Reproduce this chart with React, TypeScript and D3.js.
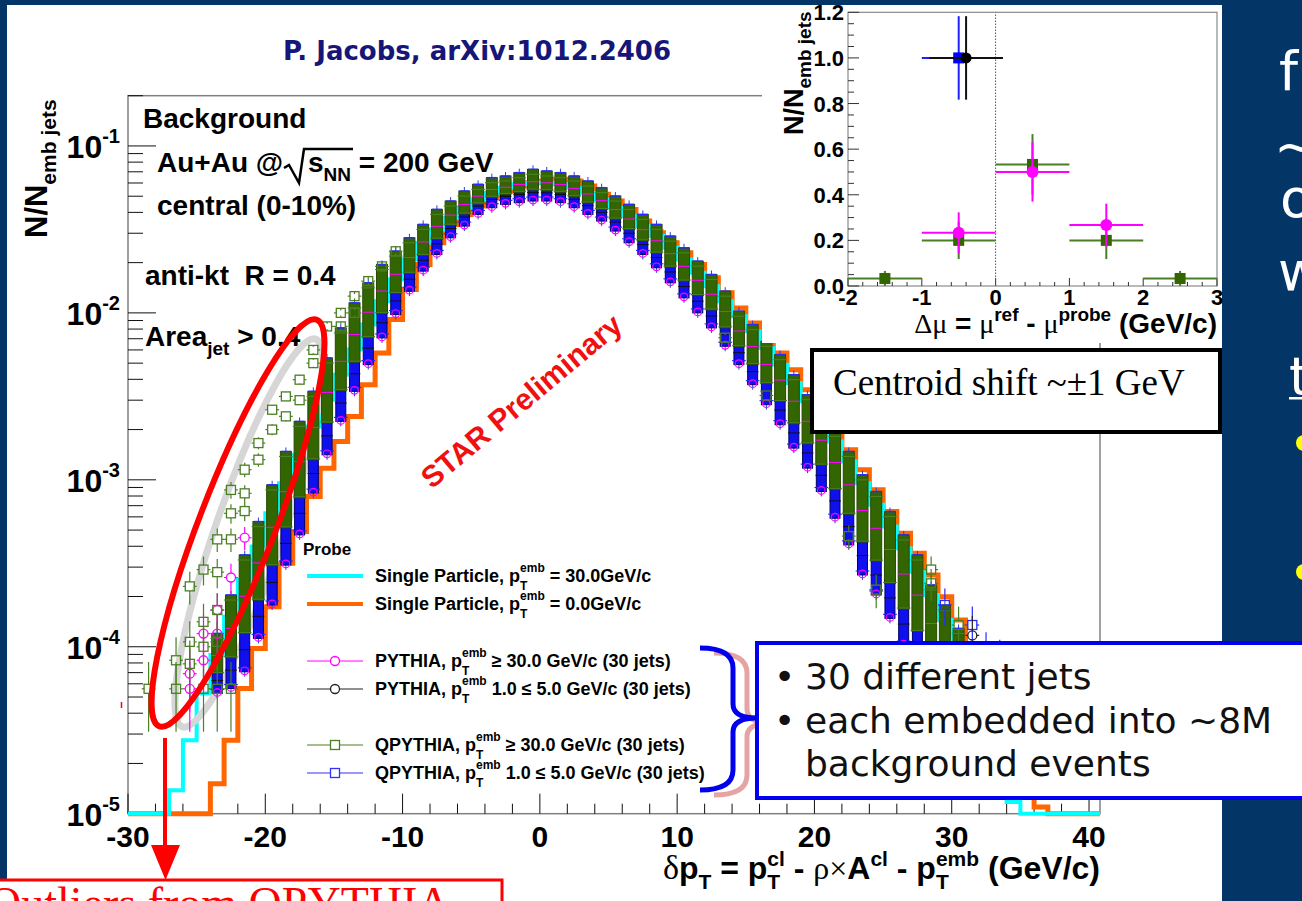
import React from 'react'
import * as d3 from 'd3'

// delta pT histograms, 1 GeV/c bins starting at -30; values are log10(N/N_emb jets), null = empty bin
const BIN_START = -30
const SINGLE_0_LOG10 = [
  null, null, null, null, null, null, -4.82, -4.56, -4.25, -4.01,
  -3.76, -3.5, -3.31, -3.1, -2.93, -2.77, -2.62, -2.43, -2.24, -2.04,
  -1.86, -1.71, -1.58, -1.47, -1.41, -1.36, -1.31, -1.27, -1.24, -1.22,
  -1.21, -1.2, -1.21, -1.24, -1.29, -1.33, -1.38, -1.45, -1.52, -1.58,
  -1.64, -1.71, -1.79, -1.88, -1.97, -2.06, -2.15, -2.24, -2.34, -2.46,
  -2.57, -2.7, -2.82, -2.94, -3.06, -3.19, -3.32, -3.44, -3.57, -3.7,
  -3.84, -3.98, -4.14, -4.32, -4.5, -4.72, -4.96, null, null, null,
]
const SINGLE_30_LOG10 = [
  null, null, null, -4.86, -4.56, -4.28, -4.05, -3.82, -3.6, -3.4,
  -3.2, -3.02, -2.85, -2.68, -2.52, -2.37, -2.22, -2.07, -1.93, -1.8,
  -1.68, -1.58, -1.5, -1.43, -1.37, -1.32, -1.28, -1.25, -1.23, -1.22,
  -1.22, -1.23, -1.25, -1.28, -1.32, -1.37, -1.42, -1.48, -1.54, -1.61,
  -1.68, -1.76, -1.84, -1.93, -2.02, -2.11, -2.21, -2.31, -2.42, -2.53,
  -2.65, -2.77, -2.89, -3.02, -3.15, -3.28, -3.41, -3.55, -3.69, -3.84,
  -4.0, -4.18, -4.38, -4.62, -4.93, null, null, null, null, null,
]

// envelope of the overlaid embedded-jet points (PYTHIA / QPYTHIA, 30 jets each), bins from -24
const JET_BIN_START = -24
const JET_HI_LOG10 = [
  -3.95, -3.72, -3.48, -3.28, -3.06, -2.86, -2.68, -2.5, -2.3, -2.12,
  -1.97, -1.85, -1.74, -1.66, -1.58, -1.5, -1.41, -1.36, -1.3, -1.26,
  -1.22, -1.21, -1.19, -1.17, -1.18, -1.19, -1.21, -1.24, -1.28, -1.33,
  -1.38, -1.44, -1.5, -1.57, -1.64, -1.72, -1.8, -1.9, -2.02, -2.1,
  -2.2, -2.28, -2.4, -2.52, -2.62, -2.74, -2.86, -3.0, -3.1, -3.22,
  -3.36, -3.48, -3.66, -3.78, -3.92, -4.05,
]
const JET_LO_LOG10 = [
  -4.25, -4.22, -4.12, -3.92, -3.72, -3.48, -3.3, -3.05, -2.82, -2.62,
  -2.44, -2.28, -2.12, -1.98, -1.84, -1.72, -1.62, -1.52, -1.45, -1.38,
  -1.34, -1.32, -1.31, -1.3, -1.3, -1.31, -1.34, -1.38, -1.42, -1.48,
  -1.55, -1.62, -1.7, -1.79, -1.88, -1.97, -2.06, -2.17, -2.28, -2.4,
  -2.52, -2.64, -2.78, -2.9, -3.04, -3.2, -3.36, -3.54, -3.66, -3.8,
  -3.96, -4.1, -4.25, -4.35, -4.45, -4.55,
]

// isolated points: [bin centre, N/N_emb, error]
const QPYTHIA_HI_POINTS: [number, number, number][] = [
  [-28.5, 5.6e-5, 2.5e-5], [-26.5, 8.3e-5, 3.1e-5], [-26.5, 5.6e-5, 2.5e-5],
  [-25.5, 2.3e-4, 5.1e-5], [-25.5, 1.07e-4, 3.5e-5], [-25.5, 7.9e-5, 3.0e-5],
  [-24.5, 2.9e-4, 5.7e-5], [-24.5, 1.41e-4, 4.0e-5], [-24.5, 1.0e-4, 3.4e-5], [-24.5, 5.6e-5, 2.5e-5],
  [-23.5, 4.4e-4, 7.1e-5], [-23.5, 2.8e-4, 5.6e-5], [-23.5, 1.66e-4, 4.3e-5], [-23.5, 1.07e-4, 3.5e-5], [-23.5, 5.6e-5, 2.5e-5],
  [-22.5, 8.7e-4, 9.9e-5], [-22.5, 6.3e-4, 8.5e-5], [-22.5, 4.4e-4, 7.1e-5], [-22.5, 5.6e-5, 2.5e-5],
  [-21.5, 1.15e-3, 1.14e-4], [-21.5, 8.3e-4, 9.7e-5], [-21.5, 6.5e-4, 8.6e-5],
  [-20.5, 1.66e-3, 1.37e-4], [-20.5, 1.32e-3, 1.22e-4],
  [-19.5, 2.63e-3, 1.73e-4], [-19.5, 2.0e-3, 1.5e-4],
  [-18.5, 3.16e-3, 1.9e-4], [-18.5, 2.4e-3, 1.65e-4],
  [-17.5, 3.98e-3, 2.1e-4], [-17.5, 3.0e-3, 1.84e-4],
  [-16.5, 6.0e-3, 2.6e-4], [-16.5, 5.0e-3, 2.4e-4],
  [-15.5, 8.3e-3, 3.1e-4], [-14.5, 1.0e-2, 3.4e-4], [-14.5, 8.3e-3, 3.1e-4],
  [-13.5, 1.26e-2, 3.8e-4], [-13.5, 1.0e-2, 3.4e-4], [-12.5, 1.55e-2, 4.2e-4],
  [-11.5, 1.9e-2, 4.6e-4], [-10.5, 2.34e-2, 5.2e-4],
  [13.5, 7.1e-3, 2.8e-4], [16.5, 3.2e-3, 1.9e-4], [22.5, 4.6e-4, 7.2e-5],
  [24.5, 2.2e-4, 5.0e-5], [28.5, 2.9e-4, 5.7e-5], [28.5, 2.4e-4, 5.2e-5], [30.5, 1.35e-4, 3.9e-5],
]
const PYTHIA_HI_POINTS: [number, number, number][] = [
  [-21.5, 4.5e-4, 7.1e-5], [-22.5, 2.6e-4, 5.4e-5], [-23.5, 1.66e-4, 4.3e-5], [-23.5, 1.2e-4, 3.7e-5],
  [-24.5, 1.2e-4, 3.7e-5], [-24.5, 8.3e-5, 3.1e-5], [-25.5, 6.9e-5, 2.8e-5], [-25.5, 5.6e-5, 2.5e-5],
]
const QPYTHIA_LO_POINTS: [number, number, number][] = [
  [29.5, 1.78e-4, 4.5e-5], [31.5, 1.35e-4, 3.9e-5], [32.5, 9e-5, 3.2e-5], [33.5, 8e-5, 3e-5],
]
const PYTHIA_LO_POINTS: [number, number, number][] = [[31.5, 1.17e-4, 3.6e-5]]

const X_TICKS = [-30, -20, -10, 0, 10, 20, 30, 40]
const Y_DECADES = [-5, -4, -3, -2, -1]

// inset: centroid shift distribution
const INSET_X_TICKS = [-2, -1, 0, 1, 2, 3]
const INSET_Y_TICKS = [0, 0.2, 0.4, 0.6, 0.8, 1.0, 1.2]
const INSET_QPYTHIA_HI = [
  { x: -1.5, y: 0.033, e: 0.033 }, { x: -0.5, y: 0.2, e: 0.082 }, { x: 0.5, y: 0.533, e: 0.133 },
  { x: 1.5, y: 0.2, e: 0.082 }, { x: 2.5, y: 0.033, e: 0.033 },
]
const INSET_PYTHIA_HI = [
  { x: -0.5, y: 0.233, e: 0.09 }, { x: 0.5, y: 0.5, e: 0.13 }, { x: 1.5, y: 0.267, e: 0.094 },
]
const INSET_QPYTHIA_LO = [{ x: -0.5, y: 1.0, e: 0.183 }]
const INSET_PYTHIA_LO = [{ x: -0.4, y: 1.0, e: 0.183 }]

const W = 1302
const H = 901
const SLIDE_BG = '#033667'
const C_ORANGE = '#ff6600'
const C_CYAN = '#00ffff'
const C_GREEN = '#336600'
const C_GREEN_LINE = '#4a7f24'
const C_BLUE = '#1010ee'
const C_MAGENTA = '#ff00ff'

const x = d3.scaleLinear().domain([-30, 40.8]).range([128, 1100])
const y = d3.scaleLog().domain([1e-5, 0.2]).range([813.7, 95.7])
const ix = d3.scaleLinear().domain([-2, 3]).range([848, 1217])
const iy = d3.scaleLinear().domain([0, 1.2]).range([286, 12.3])

const yLog = (lg: number | null) => (lg == null ? y.range()[0] : Math.min(y.range()[0], y(Math.pow(10, lg))))

type Run = { t: string; s: number; dy?: number; w?: string; f?: string; stack?: boolean }
let ctx: CanvasRenderingContext2D | null = null
function measure(r: Run) {
  if (!ctx) ctx = document.createElement('canvas').getContext('2d')
  ctx!.font = `${r.w ?? 'bold'} ${r.s}px "${r.f ?? 'Liberation Sans'}"`
  return ctx!.measureText(r.t).width
}
function runs(list: Run[], x0: number, y0: number, anchor: 'start' | 'end' = 'start', fill = '#000') {
  const pos: number[] = []
  let cx = 0
  let stackAt: number | null = null
  let stackW = 0
  list.forEach((r) => {
    const w = measure(r)
    if (r.stack) { stackAt = cx; stackW = w; pos.push(cx) }
    else if (stackAt !== null) { pos.push(stackAt); cx = stackAt + Math.max(stackW, w); stackAt = null }
    else { pos.push(cx); cx += w }
  })
  const off = anchor === 'end' ? x0 - cx : x0
  return list.map((r, i) => (
    <text key={i} x={off + pos[i]} y={y0 + (r.dy ?? 0)} fontSize={r.s} fontWeight={r.w ?? 'bold'}
      fontFamily={`'${r.f ?? 'Liberation Sans'}', Arial, sans-serif`} fill={fill} style={{ whiteSpace: 'pre' }}>
      {r.t}
    </text>
  ))
}

function stepPath(vals: (number | null)[]) {
  let d = ''
  vals.forEach((lg, i) => {
    const yy = yLog(lg)
    d += `${i === 0 ? 'M' : 'L'}${x(BIN_START + i)},${yy}L${x(BIN_START + i + 1)},${yy}`
  })
  d += `L${x(x.domain()[1])},${y.range()[0]}`
  return d
}

function ErrPoint({ px, v, e, color, shape }: { px: number; v: number; e: number; color: string; shape: 'sq' | 'ci' }) {
  const cx = x(px)
  const cy = y(v)
  const top = y(v + e)
  const bot = v - e > 1e-5 ? y(v - e) : y.range()[0]
  const hw = 4.5
  return (
    <g>
      <line x1={cx} x2={cx} y1={top} y2={cy - hw} stroke={color} strokeWidth={1.2} />
      <line x1={cx} x2={cx} y1={cy + hw} y2={bot} stroke={color} strokeWidth={1.2} />
      <line x1={x(px - 0.5)} x2={cx - hw} y1={cy} y2={cy} stroke={color} strokeWidth={1.2} />
      <line x1={cx + hw} x2={x(px + 0.5)} y1={cy} y2={cy} stroke={color} strokeWidth={1.2} />
      {shape === 'sq'
        ? <rect x={cx - hw} y={cy - hw} width={hw * 2} height={hw * 2} fill="none" stroke={color} strokeWidth={1.3} />
        : <circle cx={cx} cy={cy} r={hw} fill="none" stroke={color} strokeWidth={1.3} />}
    </g>
  )
}

function Brace({ dx, dy, color }: { dx: number; dy: number; color: string }) {
  const d = 'M700,648 Q733,648 733,668 L733,704 Q733,718 757,718 Q733,718 733,732 L733,770 Q733,790 700,790'
  return <path d={d} transform={`translate(${dx},${dy})`} fill="none" stroke={color} strokeWidth={5} />
}

export default function App() {
  const jets = JET_HI_LOG10.map((hi, i) => ({ b: JET_BIN_START + i, hi, lo: JET_LO_LOG10[i] }))
  const yTicks: { v: number; major: boolean }[] = []
  Y_DECADES.forEach((e) => {
    for (let k = 1; k <= 9; k++) {
      const v = k * Math.pow(10, e)
      if (v <= y.domain()[1] * 1.0001) yTicks.push({ v, major: k === 1 })
    }
  })
  const xMinor = d3.range(-30, 41, 2)
  const iyMinor = d3.range(0, 1.2001, 0.05)
  const ixMinor = d3.range(-2, 3.001, 0.2)
  const [ax0, ax1] = x.range()
  const [ay0, ay1] = y.range()
  const [ix0, ix1] = ix.range()
  const [iy0, iy1] = iy.range()

  const sup = (t: string): Run => ({ t, s: 12, dy: -10, stack: true })
  const sub = (t: string): Run => ({ t, s: 12, dy: 8 })
  const legend = [
    { y: 576, kind: 'line', color: C_CYAN, text: [{ t: 'Single Particle, p', s: 18 }, sup('emb'), sub('T'), { t: ' = 30.0GeV/c', s: 18 }] },
    { y: 604, kind: 'line', color: C_ORANGE, text: [{ t: 'Single Particle, p', s: 18 }, sup('emb'), sub('T'), { t: ' = 0.0GeV/c', s: 18 }] },
    { y: 661, kind: 'ci', color: C_MAGENTA, text: [{ t: 'PYTHIA, p', s: 18 }, sup('emb'), sub('T'), { t: ' \u2265 30.0 GeV/c (30 jets)', s: 18 }] },
    { y: 689, kind: 'ci', color: '#222', text: [{ t: 'PYTHIA, p', s: 18 }, sup('emb'), sub('T'), { t: ' 1.0 \u2264 5.0 GeV/c (30 jets)', s: 18 }] },
    { y: 745, kind: 'sq', color: C_GREEN_LINE, text: [{ t: 'QPYTHIA, p', s: 18 }, sup('emb'), sub('T'), { t: ' \u2265 30.0 GeV/c (30 jets)', s: 18 }] },
    { y: 773, kind: 'sq', color: '#3030ff', text: [{ t: 'QPYTHIA, p', s: 18 }, sup('emb'), sub('T'), { t: ' 1.0 \u2264 5.0 GeV/c (30 jets)', s: 18 }] },
  ] as { y: number; kind: string; color: string; text: Run[] }[]

  return (
    <svg width={W} height={H} style={{ position: 'absolute', left: 0, top: 0, display: 'block' }}
      fontFamily="'Liberation Sans', Arial, sans-serif">
      <rect width={W} height={H} fill={SLIDE_BG} />
      <rect x={7} y={5} width={1215} height={H} fill="#fff" />

      <text x={283} y={60} fontFamily="'DejaVu Sans', sans-serif" fontWeight="bold" fontSize={26} fill="#16167a">
        P. Jacobs, arXiv:1012.2406
      </text>

      {/* main frame */}
      <rect x={ax0} y={ay1} width={ax1 - ax0} height={ay0 - ay1} fill="none" stroke="#808080" strokeWidth={1.5} />
      {yTicks.map((t, i) => (
        <line key={i} x1={ax0} x2={ax0 + (t.major ? 28 : 15)} y1={y(t.v)} y2={y(t.v)} stroke="#111" strokeWidth={1} />
      ))}
      {xMinor.map((t) => (
        <line key={t} x1={x(t)} x2={x(t)} y1={ay0} y2={ay0 - (t % 10 === 0 ? 20 : 10)} stroke="#111" strokeWidth={1} />
      ))}
      {Y_DECADES.map((e) => (
        <g key={e}>{runs([{ t: '10', s: 32 }, { t: `${e}`, s: 20, dy: -15 }], 120, y(Math.pow(10, e)) + 12, 'end')}</g>
      ))}
      {X_TICKS.map((t) => (
        <text key={t} x={x(t)} y={847} textAnchor="middle" fontSize={30} fontWeight="bold">{t}</text>
      ))}
      <g>{runs([
        { t: '\u03b4', s: 34, w: 'normal', f: 'Liberation Serif' }, { t: 'p', s: 32 }, { t: 'T', s: 21, dy: 10 },
        { t: ' = p', s: 32 }, { t: 'cl', s: 21, dy: -13, stack: true }, { t: 'T', s: 21, dy: 10 },
        { t: ' - ', s: 32 }, { t: '\u03c1\u00d7', s: 32, w: 'normal', f: 'Liberation Serif' }, { t: 'A', s: 32 },
        { t: 'cl', s: 21, dy: -13 }, { t: ' - p', s: 32 }, { t: 'emb', s: 21, dy: -13, stack: true }, { t: 'T', s: 21, dy: 10 },
        { t: ' (GeV/c)', s: 32 },
      ], ax1, 879, 'end')}</g>
      <g transform="translate(47,238) rotate(-90)">
        {runs([{ t: 'N/N', s: 31 }, { t: 'emb jets', s: 21, dy: 9 }], 0, 0)}
      </g>

      {/* plot labels */}
      <text x={143} y={128} fontSize={28} fontWeight="bold">Background</text>
      <text x={157} y={172} fontSize={28} fontWeight="bold">Au+Au @</text>
      <path d="M284,168 L289,165 L299,183 L304,149 L353,149" fill="none" stroke="#000" strokeWidth={2.5} />
      <g>{runs([{ t: 's', s: 28 }, { t: 'NN', s: 19, dy: 9 }, { t: ' = 200 GeV', s: 28 }], 308, 172)}</g>
      <text x={157} y={215} fontSize={28} fontWeight="bold">central (0-10%)</text>
      <text x={145} y={285} fontSize={28} fontWeight="bold" style={{ whiteSpace: 'pre' }}>anti-kt  R = 0.4</text>
      <g>{runs([{ t: 'Area', s: 28 }, { t: 'jet', s: 19, dy: 9 }, { t: ' > 0.4', s: 28 }], 145, 346)}</g>

      {/* single-particle histograms */}
      <path d={stepPath(SINGLE_0_LOG10)} fill="none" stroke={C_ORANGE} strokeWidth={5} />
      <path d={stepPath(SINGLE_30_LOG10)} fill="none" stroke={C_CYAN} strokeWidth={4} />

      {/* shadow of the outline ellipse */}
      <ellipse cx={0} cy={0} rx={205} ry={34} transform="translate(249,533) rotate(-71)" fill="none" stroke="#d6d6d6" strokeWidth={7} />

      {/* embedded jets: overlapping markers of the 30-jet sets, per bin */}
      {jets.map(({ b, hi, lo }) => {
        const xc = x(b + 0.5)
        const x0 = x(b)
        const x1 = x(b + 1)
        const yH = y(Math.pow(10, hi))
        const yL = y(Math.pow(10, lo))
        const ySplit = yH + (yL - yH) * 0.68
        return (
          <g key={b}>
            <line x1={xc} x2={xc} y1={yH - 9} y2={yL + 10} stroke="#2f3fd0" strokeWidth={1} />
            <rect x={xc - 5} y={ySplit - 3} width={10} height={yL - ySplit + 8} fill={C_BLUE} stroke="#00006a" strokeWidth={1} />
            <line x1={x0} x2={x1} y1={yL + 1} y2={yL + 1} stroke="#2222ff" strokeWidth={1.1} />
            <line x1={x0 + 1} x2={x1 - 1} y1={(ySplit + yL) / 2} y2={(ySplit + yL) / 2} stroke="#111" strokeWidth={1} />
            <circle cx={xc} cy={yL + 4} r={3.8} fill="none" stroke={C_MAGENTA} strokeWidth={1.2} />
            <rect x={xc - 5.5} y={yH - 5} width={11} height={ySplit - yH + 6} fill={C_GREEN} stroke="#264a04" strokeWidth={1} />
            <line x1={xc - 5} x2={xc + 5} y1={yH - 5} y2={yH - 5} stroke="#2a2aff" strokeWidth={1.5} />
            <line x1={x0} x2={x1} y1={yH} y2={yH} stroke={C_GREEN_LINE} strokeWidth={1.1} />
            <line x1={x0 + 1} x2={x1 - 1} y1={(yH + ySplit) / 2} y2={(yH + ySplit) / 2} stroke={C_MAGENTA} strokeWidth={1} />
            <line x1={x0} x2={x1} y1={ySplit} y2={ySplit} stroke={C_GREEN_LINE} strokeWidth={1} />
          </g>
        )
      })}
      {PYTHIA_HI_POINTS.map((p, i) => <ErrPoint key={'m' + i} px={p[0]} v={p[1]} e={p[2]} color={C_MAGENTA} shape="ci" />)}
      {QPYTHIA_HI_POINTS.map((p, i) => <ErrPoint key={'g' + i} px={p[0]} v={p[1]} e={p[2]} color={C_GREEN_LINE} shape="sq" />)}
      {QPYTHIA_LO_POINTS.map((p, i) => <ErrPoint key={'b' + i} px={p[0]} v={p[1]} e={p[2]} color="#2a2aff" shape="sq" />)}
      {PYTHIA_LO_POINTS.map((p, i) => <ErrPoint key={'k' + i} px={p[0]} v={p[1]} e={p[2]} color="#222" shape="ci" />)}

      {/* outline ellipse */}
      <ellipse cx={0} cy={0} rx={218} ry={38} transform="translate(238,523) rotate(-68.8)" fill="none" stroke="#ff0000" strokeWidth={6} />
      <line x1={121.5} x2={121.5} y1={702} y2={708} stroke="#ff0000" strokeWidth={1.5} />

      <text transform="translate(528,409) rotate(-40)" textAnchor="middle" fontSize={30} fontWeight="bold" fill="#f01010">
        STAR Preliminary
      </text>

      {/* legend */}
      <text x={303} y={555} fontSize={17} fontWeight="bold">Probe</text>
      {legend.map((e, i) => (
        <g key={i}>
          <line x1={307} x2={363} y1={e.y} y2={e.y} stroke={e.color} strokeWidth={e.kind === 'line' ? 4 : 1.2} />
          {e.kind === 'ci' && <circle cx={335} cy={e.y} r={4.5} fill="#fff" stroke={e.color} strokeWidth={1.3} />}
          {e.kind === 'sq' && <rect x={330.5} y={e.y - 4.5} width={9} height={9} fill="#fff" stroke={e.color} strokeWidth={1.3} />}
          {runs(e.text, 375, e.y + 5.5)}
        </g>
      ))}

      {/* inset */}
      <rect x={762} y={5} width={460} height={338} fill="#fff" />
      <rect x={ix0} y={iy1} width={ix1 - ix0} height={iy0 - iy1} fill="none" stroke="#8a8a8a" strokeWidth={1.2} />
      {iyMinor.map((v, i) => (
        <line key={i} x1={ix0} x2={ix0 + (i % 4 === 0 ? 11 : 6)} y1={iy(v)} y2={iy(v)} stroke="#333" strokeWidth={1} />
      ))}
      {ixMinor.map((v, i) => (
        <line key={i} x1={ix(v)} x2={ix(v)} y1={iy0} y2={iy0 - (i % 5 === 0 ? 8 : 4)} stroke="#333" strokeWidth={1} />
      ))}
      <line x1={ix(0)} x2={ix(0)} y1={iy0} y2={iy1} stroke="#555" strokeWidth={1} strokeDasharray="1.5,1.5" />
      {INSET_Y_TICKS.map((v) => (
        <text key={v} x={844} y={iy(v) + 8} textAnchor="end" fontSize={22} fontWeight="bold">{v.toFixed(1)}</text>
      ))}
      {INSET_X_TICKS.map((v) => (
        <text key={v} x={ix(v)} y={305} textAnchor="middle" fontSize={22} fontWeight="bold">{v}</text>
      ))}
      <g>{runs([
        { t: '\u0394\u03bc', s: 28, w: 'normal', f: 'Liberation Serif' }, { t: ' = ', s: 28 },
        { t: '\u03bc', s: 28, w: 'normal', f: 'Liberation Serif' }, { t: 'ref', s: 19, dy: -12 }, { t: ' - ', s: 28 },
        { t: '\u03bc', s: 28, w: 'normal', f: 'Liberation Serif' }, { t: 'probe', s: 19, dy: -12 }, { t: ' (GeV/c)', s: 28 },
      ], ix1, 333, 'end')}</g>
      <g transform="translate(803,135) rotate(-90)">
        {runs([{ t: 'N/N', s: 27 }, { t: 'emb jets', s: 19, dy: 8 }], 0, 0)}
      </g>
      {INSET_QPYTHIA_HI.map((p, i) => (
        <g key={'ig' + i}>
          <line x1={ix(p.x - 0.5)} x2={ix(p.x + 0.5)} y1={iy(p.y)} y2={iy(p.y)} stroke={C_GREEN_LINE} strokeWidth={2} />
          <line x1={ix(p.x)} x2={ix(p.x)} y1={iy(p.y + p.e)} y2={iy(Math.max(0, p.y - p.e))} stroke={C_GREEN_LINE} strokeWidth={2} />
          <rect x={ix(p.x) - 5.5} y={iy(p.y) - 5.5} width={11} height={11} fill={C_GREEN} />
        </g>
      ))}
      {INSET_PYTHIA_HI.map((p, i) => (
        <g key={'im' + i}>
          <line x1={ix(p.x - 0.5)} x2={ix(p.x + 0.5)} y1={iy(p.y)} y2={iy(p.y)} stroke={C_MAGENTA} strokeWidth={2} />
          <line x1={ix(p.x)} x2={ix(p.x)} y1={iy(p.y + p.e)} y2={iy(p.y - p.e)} stroke={C_MAGENTA} strokeWidth={2} />
          <circle cx={ix(p.x)} cy={iy(p.y)} r={6} fill={C_MAGENTA} />
        </g>
      ))}
      {INSET_QPYTHIA_LO.map((p, i) => (
        <g key={'ib' + i}>
          <line x1={ix(p.x - 0.5)} x2={ix(p.x + 0.5)} y1={iy(p.y)} y2={iy(p.y)} stroke="#2020ff" strokeWidth={2} />
          <line x1={ix(p.x)} x2={ix(p.x)} y1={iy(p.y + p.e)} y2={iy(p.y - p.e)} stroke="#2020ff" strokeWidth={2} />
          <rect x={ix(p.x) - 5.5} y={iy(p.y) - 5.5} width={11} height={11} fill="#0000ff" />
        </g>
      ))}
      {INSET_PYTHIA_LO.map((p, i) => (
        <g key={'ik' + i}>
          <line x1={ix(p.x - 0.5)} x2={ix(p.x + 0.5)} y1={iy(p.y)} y2={iy(p.y)} stroke="#111" strokeWidth={2} />
          <line x1={ix(p.x)} x2={ix(p.x)} y1={iy(p.y + p.e)} y2={iy(p.y - p.e)} stroke="#111" strokeWidth={2} />
          <circle cx={ix(p.x)} cy={iy(p.y)} r={5.5} fill="#000" />
        </g>
      ))}

      {/* centroid box */}
      <rect x={812} y={350} width={408} height={82} fill="#fff" stroke="#000" strokeWidth={4} />
      <text x={833} y={395} fontFamily="'Liberation Serif', serif" fontSize={37}>{'Centroid shift ~\u00b11 GeV'}</text>

      {/* brace + note box */}
      <Brace dx={14} dy={5} color="#e6a3a3" />
      <Brace dx={0} dy={0} color="#0000ee" />
      <rect x={757} y={643} width={600} height={155} fill="#fff" stroke="#0000ee" strokeWidth={4} />
      <g fontFamily="'DejaVu Sans', sans-serif" fontSize={36} fill="#111">
        <text x={774} y={689}>{'\u2022'}</text>
        <text x={805} y={689}>30 different jets</text>
        <text x={774} y={733}>{'\u2022'}</text>
        <text x={805} y={733}>each embedded into ~8M</text>
        <text x={805} y={776}>background events</text>
      </g>

      {/* arrow + callout */}
      <line x1={165} x2={165} y1={738} y2={848} stroke="#ff0000" strokeWidth={4} />
      <polygon points="151,845 180,845 165.5,880" fill="#ff0000" />
      <rect x={-5} y={880} width={507} height={60} fill="#fff" stroke="#ff0000" strokeWidth={3} />
      <text x={-12} y={919} fontFamily="'Liberation Serif', serif" fontSize={46} fill="#ff0000">Outliers from QPYTHIA</text>

      {/* slide text cut at the right edge */}
      <g fill="#fff" fontFamily="'DejaVu Sans', sans-serif" fontSize={54}>
        <text x={1279} y={90}>f</text>
        <text x={1274} y={165}>~</text>
        <text x={1280} y={217}>o</text>
        <text x={1278} y={290}>w</text>
        <text x={1289} y={395}>t</text>
      </g>
      <rect x={1289} y={397} width={20} height={2.5} fill="#fff" />
      <circle cx={1304} cy={443} r={8} fill="#ffff00" />
      <circle cx={1304} cy={572} r={8} fill="#ffff00" />
    </svg>
  )
}
